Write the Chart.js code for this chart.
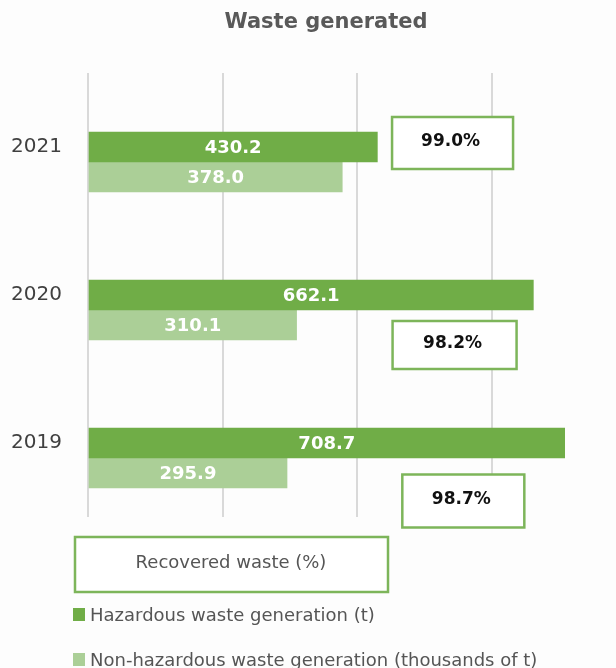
<!DOCTYPE html>
<html>
<head>
<meta charset="utf-8">
<script src="https://cdn.jsdelivr.net/npm/chart.js@4.4.1/dist/chart.umd.min.js"></script>
<style>
  html, body { margin: 0; padding: 0; background: #fdfdfd; }
  #wrap { position: relative; width: 616px; height: 668px; }
</style>
</head>
<body>
<div id="wrap"><canvas id="wasteChart"></canvas></div>
<script>
// Waste generated per year
const years = ['2021', '2020', '2019'];
const hazardous = [430.2, 662.1, 708.7];      // t
const nonHazardous = [378.0, 310.1, 295.9];   // thousands of t
const recovered = [99.0, 98.2, 98.7];         // %
const xTicks = [0, 200, 400, 600];

// where the recovered-waste boxes sit: x in axis units, dy in px from the year row
const boxPlacement = [
  { x: 542, dy: -4, w: 121, h: 52 },
  { x: 545, dy: 50, w: 124, h: 48 },
  { x: 558, dy: 58, w: 122, h: 53 },
];

const GREEN = '#70ad47';
const LIGHT_GREEN = '#abcf97';
const BOX_GREEN = '#7db55a';
const FONT = 'DejaVu Sans';

Chart.defaults.font.family = FONT;

// white value labels centred inside each bar
const barLabels = {
  id: 'barLabels',
  afterDatasetsDraw(chart) {
    const ctx = chart.ctx;
    ctx.save();
    ctx.font = 'bold 18px ' + FONT;
    ctx.fillStyle = '#ffffff';
    ctx.textAlign = 'center';
    ctx.textBaseline = 'middle';
    chart.data.datasets.forEach((ds, i) => {
      if (!ds.showValues) return;
      chart.getDatasetMeta(i).data.forEach((bar, j) => {
        ctx.fillText(ds.data[j].toFixed(1), (bar.x + bar.base) / 2, bar.y + 1);
      });
    });
    ctx.restore();
  }
};

// recovered % boxes + the legend underneath
const extras = {
  id: 'extras',
  afterDraw(chart) {
    const ctx = chart.ctx;
    const xs = chart.scales.x;
    const ys = chart.scales.y;
    ctx.save();

    // percentage boxes
    recovered.forEach((v, i) => {
      const p = boxPlacement[i];
      const cx = xs.getPixelForValue(p.x);
      const cy = ys.getPixelForValue(i) + p.dy;
      ctx.fillStyle = '#ffffff';
      ctx.fillRect(cx - p.w / 2, cy - p.h / 2, p.w, p.h);
      ctx.lineWidth = 2.5;
      ctx.strokeStyle = BOX_GREEN;
      ctx.strokeRect(cx - p.w / 2, cy - p.h / 2, p.w, p.h);
      ctx.font = 'bold 17px ' + FONT;
      ctx.fillStyle = '#111111';
      ctx.textAlign = 'center';
      ctx.textBaseline = 'middle';
      ctx.fillText(v.toFixed(1) + '%', cx - 2, cy - 1);
    });

    // legend: recovered waste box
    ctx.fillStyle = '#ffffff';
    ctx.fillRect(75, 537, 313, 55);
    ctx.lineWidth = 2.5;
    ctx.strokeStyle = BOX_GREEN;
    ctx.strokeRect(75, 537, 313, 55);
    ctx.font = '18px ' + FONT;
    ctx.fillStyle = '#555555';
    ctx.textAlign = 'center';
    ctx.textBaseline = 'middle';
    ctx.fillText('Recovered waste (%)', 231, 563);

    // legend: bar series
    const items = [
      { color: GREEN, text: 'Hazardous waste generation (t)', y: 615 },
      { color: LIGHT_GREEN, text: 'Non-hazardous waste generation (thousands of t)', y: 660 },
    ];
    ctx.textAlign = 'left';
    items.forEach(it => {
      ctx.fillStyle = it.color;
      ctx.fillRect(73, it.y - 7, 12, 13);
      ctx.fillStyle = '#555555';
      ctx.fillText(it.text, 90, it.y + 1);
    });

    ctx.restore();
  }
};

new Chart(document.getElementById('wasteChart'), {
  type: 'bar',
  data: {
    labels: years,
    datasets: [
      // empty slot so the hazardous bar sits on the year row
      { label: '', data: [], barThickness: 30 },
      {
        label: 'Hazardous waste generation (t)',
        data: hazardous,
        backgroundColor: GREEN,
        barThickness: 30,
        showValues: true,
      },
      {
        label: 'Non-hazardous waste generation (thousands of t)',
        data: nonHazardous,
        backgroundColor: LIGHT_GREEN,
        barThickness: 30,
        showValues: true,
      },
    ],
  },
  options: {
    indexAxis: 'y',
    responsive: true,
    maintainAspectRatio: false,
    animation: false,
    layout: { padding: { top: 73, right: 0, bottom: 151, left: 0 } },
    plugins: {
      legend: { display: false },
      tooltip: { enabled: false },
      title: { display: false },
    },
    scales: {
      x: {
        min: 0,
        max: 785,
        border: { display: false },
        grid: { color: '#d9d9d9', lineWidth: 2, drawTicks: false },
        ticks: { display: false },
        afterBuildTicks: axis => {
          axis.ticks = xTicks.map(v => ({ value: v }));
        },
        afterFit: axis => { axis.height = 0; },
      },
      y: {
        border: { display: false },
        grid: { display: false, drawTicks: false },
        ticks: {
          color: '#404040',
          font: { size: 20 },
          padding: 26,
        },
        afterFit: axis => { axis.width = 88; },
      },
    },
  },
  plugins: [barLabels, extras, {
    id: 'heading',
    afterDraw(chart) {
      const ctx = chart.ctx;
      ctx.save();
      ctx.font = 'bold 21px ' + FONT;
      ctx.fillStyle = '#595959';
      ctx.textAlign = 'center';
      ctx.textBaseline = 'middle';
      ctx.fillText('Waste generated', 326, 23);
      ctx.restore();
    }
  }],
});
</script>
</body>
</html>
